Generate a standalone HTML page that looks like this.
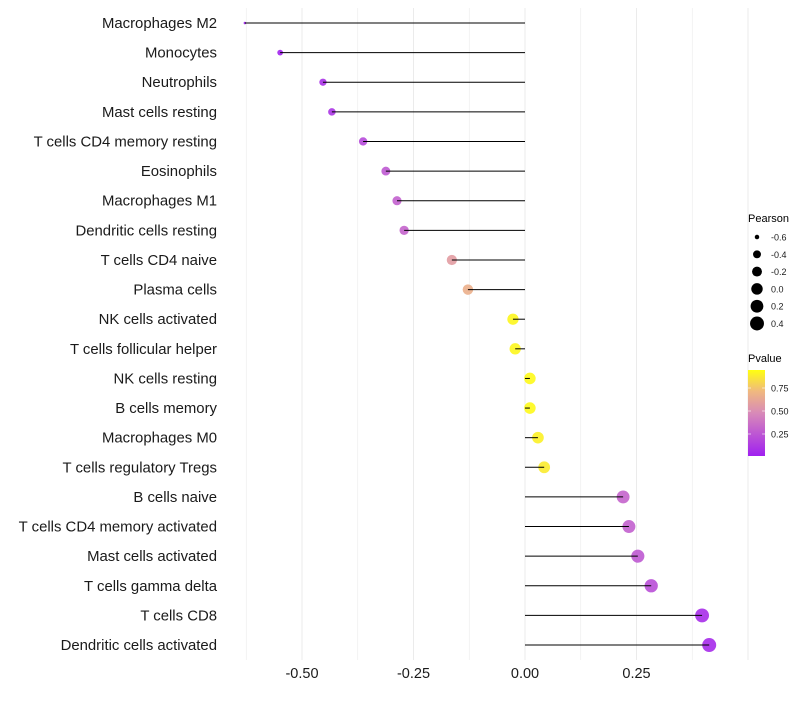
<!DOCTYPE html>
<html><head><meta charset="utf-8"><style>
body{margin:0;background:#fff;font-family:"Liberation Sans",sans-serif}
</style></head><body>
<svg id="c" width="800" height="700" xmlns="http://www.w3.org/2000/svg">
<defs><linearGradient id="pg" x1="0" y1="1" x2="0" y2="0">
<stop offset="0" stop-color="#A020F0"/><stop offset="0.5" stop-color="#D88AB8"/><stop offset="0.75" stop-color="#F0B880"/><stop offset="1" stop-color="#FFFF10"/></linearGradient></defs>
</svg>
<script>
const categories=["Macrophages M2","Monocytes","Neutrophils","Mast cells resting","T cells CD4 memory resting","Eosinophils","Macrophages M1","Dendritic cells resting","T cells CD4 naive","Plasma cells","NK cells activated","T cells follicular helper","NK cells resting","B cells memory","Macrophages M0","T cells regulatory  Tregs ","B cells naive","T cells CD4 memory activated","Mast cells activated","T cells gamma delta","T cells CD8","Dendritic cells activated"];
const pearson=[-0.628,-0.549,-0.453,-0.433,-0.363,-0.312,-0.287,-0.271,-0.164,-0.128,-0.027,-0.022,0.011,0.011,0.029,0.043,0.220,0.233,0.253,0.283,0.397,0.413];
const pvalue=[0.01,0.02,0.08,0.1,0.2,0.27,0.3,0.32,0.6,0.7,0.97,0.97,0.98,0.98,0.95,0.93,0.32,0.3,0.27,0.22,0.06,0.05];
const xTicks=[-0.5,-0.25,0,0.25];
const xTickLabels=["-0.50","-0.25","0.00","0.25"];
const legendPearson=[-0.6,-0.4,-0.2,0.0,0.2,0.4];
const legendPearsonLabels=["-0.6","-0.4","-0.2","0.0","0.2","0.4"];
const legendP=[0.75,0.5,0.25];
const legendPLabels=["0.75","0.50","0.25"];
const svg=document.getElementById('c');const NS="http://www.w3.org/2000/svg";
function x(v){return 525+v*446;}
function y(i){return 23+i*29.62;}
const pmin=Math.min(...pearson),pmax=Math.max(...pearson);
function r(p){const t=Math.max(0,Math.min(1,(p-pmin)/(pmax-pmin)));return 1.3+5.7*Math.sqrt(t);}
function col(p){const stops=[[0,[160,32,240]],[0.5,[216,138,184]],[0.75,[240,184,128]],[1,[255,255,16]]];
for(let k=1;k<stops.length;k++){if(p<=stops[k][0]){const a=stops[k-1],b=stops[k],t=(p-a[0])/(b[0]-a[0]);return 'rgb('+a[1].map((c,j)=>Math.round(c+(b[1][j]-c)*t)).join(',')+')';}}return 'rgb(255,255,16)';}
function mk(t,at,p){const e=document.createElementNS(NS,t);for(const k in at)e.setAttribute(k,at[k]);(p||svg).appendChild(e);return e;}
for(let v=-0.625;v<=0.5;v+=0.125){const g=mk('line',{x1:x(v),x2:x(v),y1:8,y2:660,stroke:'#ebebeb','stroke-width':Math.abs((v*4)%1)<1e-6?1:0.6});

}
xTicks.forEach((v,i)=>{const t=mk('text',{x:x(v),y:678,'text-anchor':'middle','font-size':14.5,fill:'#1a1a1a'});t.textContent=xTickLabels[i];

});
categories.forEach((c,i)=>{const t=mk('text',{x:217,y:y(i)+5,'text-anchor':'end','font-size':14.9,fill:'#1a1a1a'});t.textContent=c;


const d=mk('circle',{cx:x(pearson[i]),cy:y(i),r:r(pearson[i]),fill:col(pvalue[i]),'fill-opacity':0.9});


const l=mk('line',{x1:x(0),x2:x(pearson[i]),y1:y(i),y2:y(i),stroke:'#000','stroke-width':1});

});
let t=mk('text',{x:748,y:222,'font-size':11,fill:'#000'});t.textContent='Pearson';


legendPearson.forEach((v,i)=>{const cy=237+i*17.3;const c=mk('circle',{cx:757,cy:cy,r:r(v),fill:'#000'});


const tt=mk('text',{x:771,y:cy+3.5,'font-size':9,fill:'#1a1a1a'});tt.textContent=legendPearsonLabels[i];

});
t=mk('text',{x:748,y:362,'font-size':11,fill:'#000'});t.textContent='Pvalue';


const bar=mk('rect',{x:748,y:370,width:17,height:86,fill:'url(#pg)'});


legendP.forEach((v,i)=>{const yy=457-v*92;mk('line',{x1:748,x2:751,y1:yy,y2:yy,stroke:'#fff','stroke-width':0.6});mk('line',{x1:762,x2:765,y1:yy,y2:yy,stroke:'#fff','stroke-width':0.6});
const tt=mk('text',{x:771,y:yy+3.5,'font-size':9,fill:'#1a1a1a'});tt.textContent=legendPLabels[i];

});
</script>
</body></html>
